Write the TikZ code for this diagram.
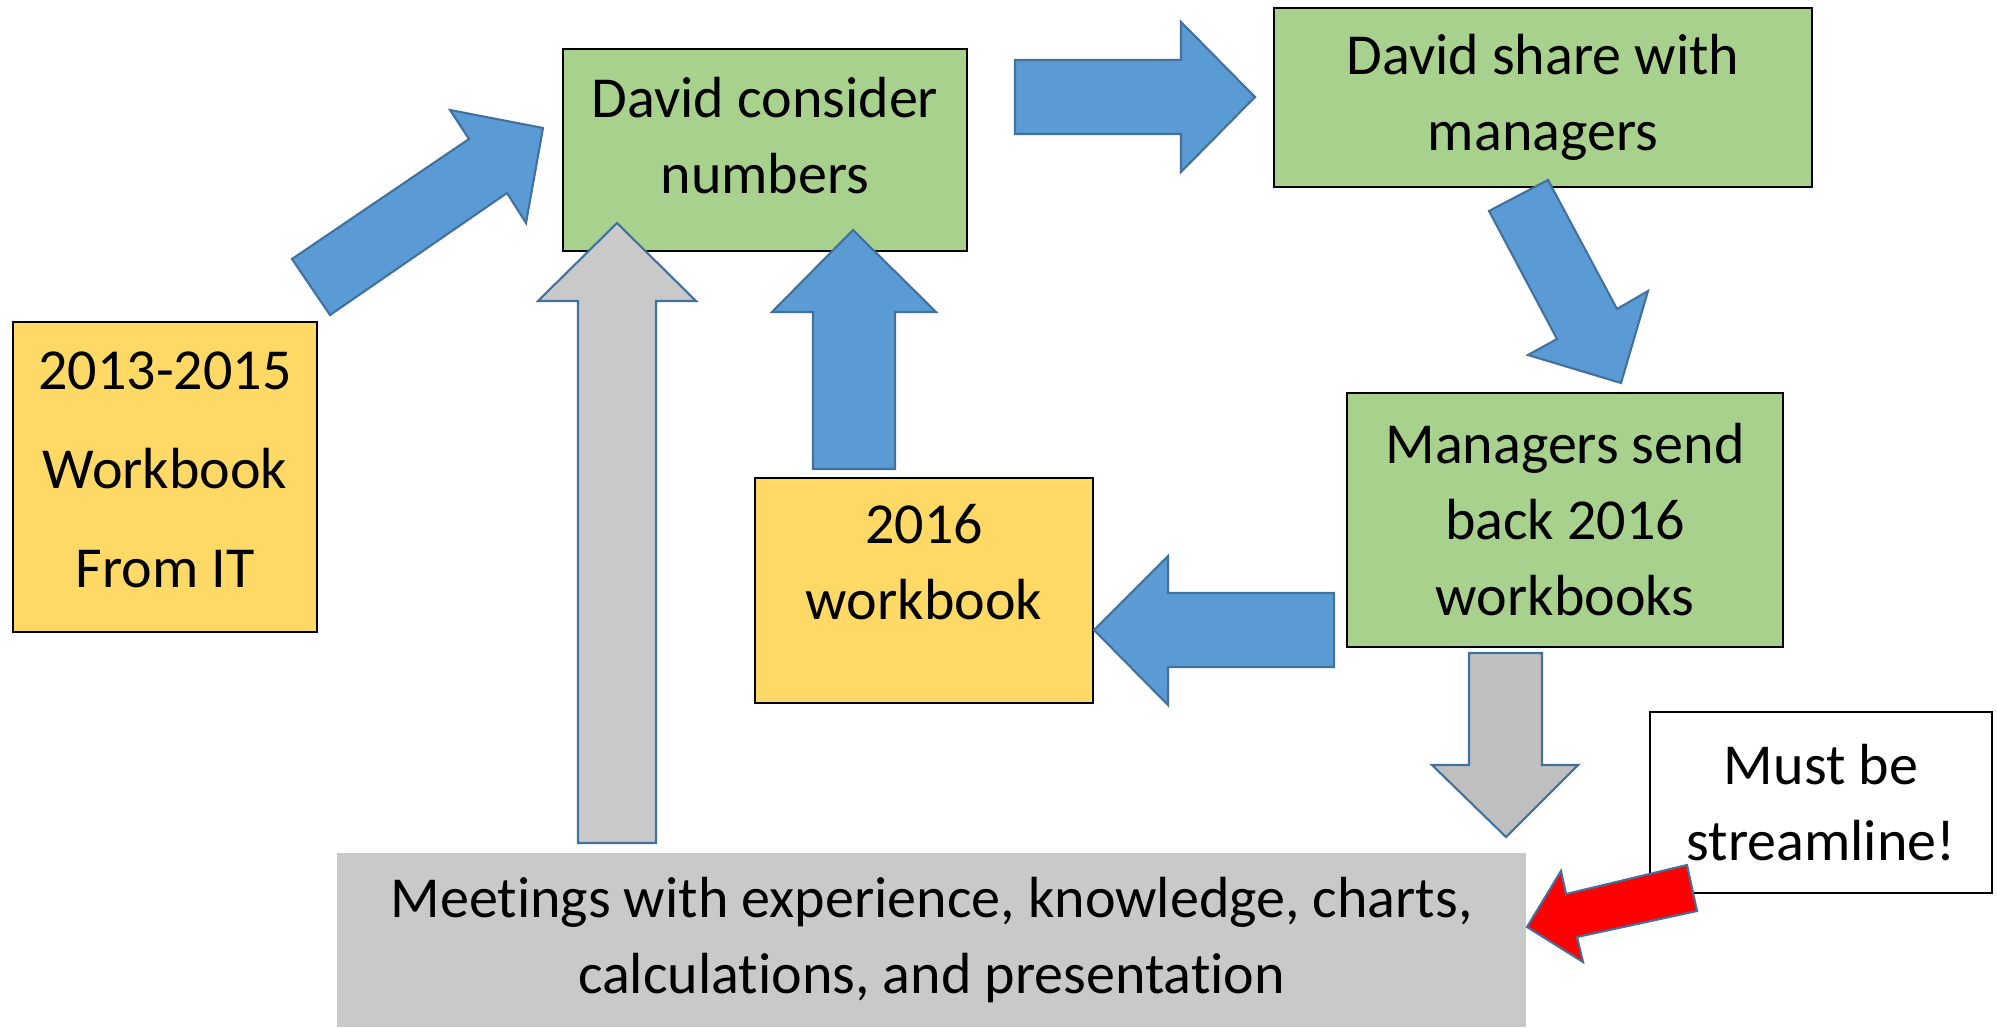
\documentclass[tikz,border=0pt]{standalone}
\usepackage{fontspec}
\setmainfont{Carlito}[Ligatures=NoCommon]
\usepackage{tikz}
\definecolor{BoxGreen}{HTML}{A9D18E}
\definecolor{BoxYellow}{HTML}{FFD966}
\definecolor{ArrBlue}{HTML}{5B9BD5}
\definecolor{ArrEdge}{HTML}{41719C}
\definecolor{MeetGray}{HTML}{C9C9C9}
\definecolor{DownGray}{HTML}{BFBFBF}
\tikzset{
    box/.style={draw=black, line width=0.6pt, align=center, inner sep=0pt,
        font=\fontsize{16.5}{21.6}\selectfont},
    blockarr/.style={draw=ArrEdge, line width=0.6pt, line join=miter},
}

\begin{document}
\begin{tikzpicture}[x=0.01cm,y=-0.01cm]
                    \useasboundingbox (0,0) rectangle (1997,1027);
%                    boxes
                    \node[box, fill=BoxYellow, minimum width=3.04cm, minimum height=3.1cm, label={[box, draw=none, yshift=0.07cm, font=\fontsize{16.5}{28.2}\selectfont]center:2013-2015\\Workbook\\From IT}] (it) at (165,477) {};
                    \node[box, fill=BoxGreen, minimum width=4.04cm, minimum height=2.02cm, label={[box, draw=none, yshift=0.14cm]center:David consider\\numbers}] (consider) at (765,150) {};
                    \node[box, fill=BoxGreen, minimum width=5.38cm, minimum height=1.79cm] (share) at (1543,97.5) {David share with\\managers};
                    \node[box, fill=BoxGreen, minimum width=4.36cm, minimum height=2.54cm] (sendback) at (1565,520) {Managers send\\back 2016\\workbooks};
                    \node[box, fill=BoxYellow, minimum width=3.38cm, minimum height=2.25cm, label={[box, draw=none, yshift=0.28cm]center:2016\\workbook}] (wb16) at (924,590.5) {};
                    \node[box, fill=white, minimum width=3.42cm, minimum height=1.81cm] (must) at (1821,802.5) {Must be\\streamline!};
                    \node[box, draw=none, fill=MeetGray, minimum width=11.89cm, minimum height=1.74cm] (meet) at (931.5,940) {Meetings with experience, knowledge, charts,\\calculations, and presentation};

%                    block arrows
                    \filldraw[blockarr, fill=ArrBlue] (292,259) -- (469,139) -- (450,110) -- (543,128) -- (526,223) -- (507,193) -- (330,315) -- cycle;
                    \filldraw[blockarr, fill=ArrBlue] (1015,60) -- (1181,60) -- (1181,22) -- (1255,97) -- (1181,172) -- (1181,134) -- (1015,134) -- cycle;
                    \filldraw[blockarr, fill=ArrBlue] (1489,211) -- (1548,180) -- (1617,309) -- (1648,291) -- (1621,383) -- (1528,355) -- (1557,339) -- cycle;
                    \filldraw[blockarr, fill=ArrBlue] (1334,593) -- (1168,593) -- (1168,556) -- (1094,630) -- (1168,705) -- (1168,667) -- (1334,667) -- cycle;
                    \filldraw[blockarr, fill=ArrBlue] (813,469) -- (813,312) -- (772,312) -- (853,230) -- (936,312) -- (895,312) -- (895,469) -- cycle;
                    \filldraw[blockarr, fill=MeetGray] (578,843) -- (578,301) -- (538,301) -- (617,223) -- (696,301) -- (656,301) -- (656,843) -- cycle;
                    \filldraw[blockarr, fill=DownGray] (1469,653) -- (1542,653) -- (1542,765) -- (1578,765) -- (1506,837) -- (1432,765) -- (1469,765) -- cycle;
                    \filldraw[blockarr, fill=red] (1687,865) -- (1697,911) -- (1577,937) -- (1583,962) -- (1527,927) -- (1561,871) -- (1566,894) -- cycle;

                \end{tikzpicture}
\end{document}
